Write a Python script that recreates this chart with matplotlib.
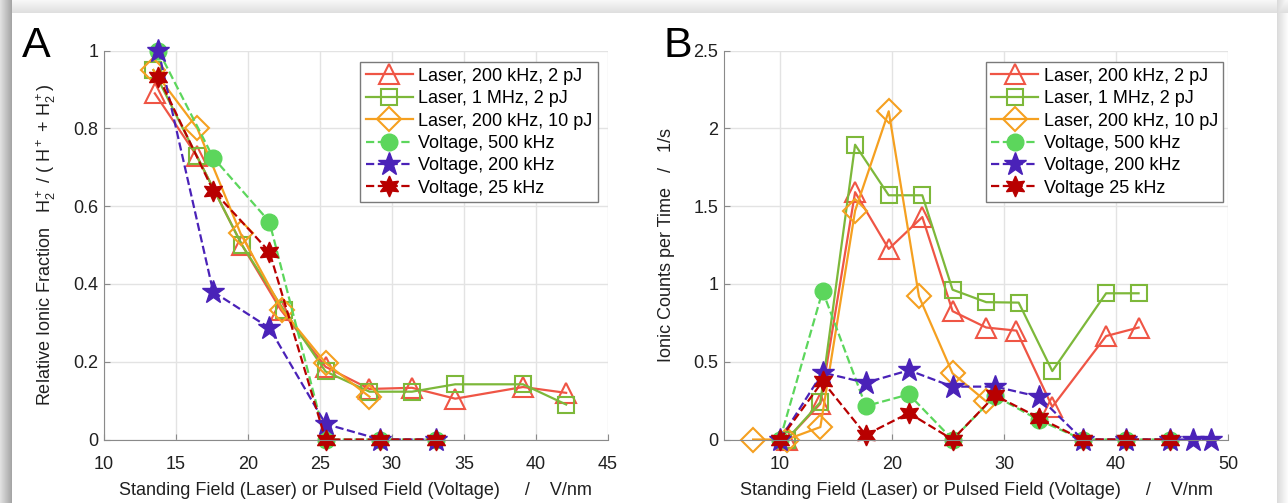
import numpy as np
import matplotlib
matplotlib.use('Agg')
import matplotlib.pyplot as plt
from matplotlib.ticker import FuncFormatter

plt.rcParams['font.family'] = ['Liberation Sans', 'DejaVu Sans']
plt.rcParams['mathtext.fontset'] = 'custom'
plt.rcParams['mathtext.rm'] = 'Liberation Sans'
plt.rcParams['mathtext.it'] = 'Liberation Sans:italic'

# ---- data: panel A (relative ionic fraction) ----
a_laser200_2_x = [13.55, 16.45, 19.6, 22.3, 25.4, 28.45, 31.4, 34.4, 39.1, 42.1]
a_laser200_2_y = [0.89, 0.73, 0.50, 0.333, 0.187, 0.13, 0.133, 0.105, 0.135, 0.12]
a_laser1M_2_x = [13.45, 16.45, 19.6, 22.5, 25.4, 28.45, 31.4, 34.4, 39.1, 42.1]
a_laser1M_2_y = [0.95, 0.73, 0.50, 0.333, 0.175, 0.123, 0.123, 0.142, 0.142, 0.09]
a_laser200_10_x = [13.45, 16.5, 19.5, 22.4, 25.4, 28.45]
a_laser200_10_y = [0.95, 0.80, 0.53, 0.333, 0.197, 0.11]
a_volt500_x = [13.8, 17.6, 21.5, 25.4, 29.2, 33.1]
a_volt500_y = [1.0, 0.725, 0.56, 0.0, 0.0, 0.0]
a_volt200_x = [13.8, 17.6, 21.5, 25.4, 29.2, 33.1]
a_volt200_y = [1.0, 0.38, 0.287, 0.04, 0.0, 0.0]
a_volt25_x = [13.8, 17.6, 21.5, 25.4, 29.2, 33.1]
a_volt25_y = [0.933, 0.64, 0.483, 0.0, 0.0, 0.0]

# ---- data: panel B (ionic counts per time) ----
b_laser200_2_x = [10.6, 13.6, 16.7, 19.7, 22.7, 25.4, 28.4, 31.1, 34.3, 39.1, 42.0]
b_laser200_2_y = [0.0, 0.23, 1.59, 1.225, 1.43, 0.825, 0.72, 0.70, 0.21, 0.665, 0.72]
b_laser1M_2_x = [10.6, 13.6, 16.7, 19.7, 22.7, 25.4, 28.4, 31.3, 34.3, 39.1, 42.0]
b_laser1M_2_y = [0.0, 0.24, 1.895, 1.57, 1.57, 0.963, 0.883, 0.88, 0.44, 0.94, 0.94]
b_laser200_10_x = [7.6, 10.6, 13.6, 16.7, 19.7, 22.4, 25.4, 28.4]
b_laser200_10_y = [0.0, 0.0, 0.08, 1.47, 2.11, 0.92, 0.425, 0.245]
b_volt500_x = [10.0, 13.8, 17.65, 21.5, 25.4, 29.2, 33.1, 37.0, 40.9, 44.8]
b_volt500_y = [0.0, 0.955, 0.215, 0.29, 0.0, 0.28, 0.125, 0.0, 0.0, 0.0]
b_volt200_x = [10.0, 13.8, 17.65, 21.5, 25.4, 29.2, 33.1, 37.0, 40.9, 44.8, 46.9, 48.5]
b_volt200_y = [0.0, 0.43, 0.365, 0.445, 0.34, 0.34, 0.275, 0.0, 0.0, 0.0, 0.0, 0.0]
b_volt25_x = [10.0, 13.8, 17.65, 21.5, 25.4, 29.2, 33.1, 37.0, 40.9, 44.8]
b_volt25_y = [0.0, 0.374, 0.03, 0.17, 0.0, 0.283, 0.14, 0.0, 0.0, 0.0]

labels = ['Laser, 200 kHz, 2 pJ', 'Laser, 1 MHz, 2 pJ', 'Laser, 200 kHz, 10 pJ',
          'Voltage, 500 kHz', 'Voltage, 200 kHz', 'Voltage, 25 kHz']
labels_b = ['Laser, 200 kHz, 2 pJ', 'Laser, 1 MHz, 2 pJ', 'Laser, 200 kHz, 10 pJ',
            'Voltage, 500 kHz', 'Voltage, 200 kHz', 'Voltage 25 kHz']

# style per series
styles = [
    dict(color='#EF5545', marker='^', ls='-', ms=15, mfc='none', mew=1.5, lw=1.6),
    dict(color='#7DB83A', marker='s', ls='-', ms=11, mfc='none', mew=1.5, lw=1.6),
    dict(color='#F5A020', marker='D', ls='-', ms=12, mfc='none', mew=1.5, lw=1.6),
    dict(color='#5CD65C', marker='o', ls='--', ms=12, mfc='#5CD65C', mew=1, lw=1.6),
    dict(color='#4A22B8', marker='*', ls='--', ms=17, mfc='#4A22B8', mew=1, lw=1.6),
    dict(color='#B80000', marker=(6, 1, 0), ls='--', ms=15, mfc='#B80000', mew=1, lw=1.6),
]

FS = 13
xlab = 'Standing Field (Laser) or Pulsed Field (Voltage)     /    V/nm'

fig = plt.figure(figsize=(12.88, 5.03), dpi=100)

# background with drop-shadow frame
H, W = 503, 1288
yy, xx = np.mgrid[0:H, 0:W]
dark = np.zeros((H, W))
dark = np.maximum(dark, np.where(xx < 12, 0.12 + 0.25 * xx / 12, 0))
dark = np.maximum(dark, np.where((yy < 13) & (xx >= 12), 0.03 + 0.1 * yy / 13, 0))
dark = np.maximum(dark, np.where(xx > 1276, 0.15 * (1 - (xx - 1276) / 12), 0))
bg = np.dstack([1 - dark] * 3)
bgax = fig.add_axes([0, 0, 1, 1], zorder=-10)
bgax.imshow(bg, aspect='auto', interpolation='bilinear')
bgax.axis('off')


def setup(ax, xlim, xticks, ylim, yticks):
    ax.set_xlim(xlim)
    ax.set_ylim(ylim)
    ax.set_xticks(xticks)
    ax.set_yticks(yticks)
    ax.yaxis.set_major_formatter(FuncFormatter(lambda v, p: f'{v:g}'))
    ax.grid(True, color='#e3e3e3', lw=1)
    ax.set_axisbelow(True)
    for s in ['top', 'right']:
        ax.spines[s].set_visible(False)
    for s in ['left', 'bottom']:
        ax.spines[s].set_color('#8a8a8a')
    ax.tick_params(direction='in', length=4, color='#8a8a8a', labelsize=FS,
                   labelcolor='#202020')
    ax.tick_params(axis='y', pad=4)
    ax.tick_params(axis='x', pad=12)
    ax.set_facecolor('none')


def add_legend(ax, xa, labs):
    ax.legend(labs, loc='upper right', bbox_to_anchor=(xa, 0.97), fontsize=FS,
              fancybox=False, edgecolor='#7a7a7a', framealpha=1, handlelength=2.6,
              labelspacing=0.3, borderpad=0.3, handletextpad=0.3, borderaxespad=0)


axA = fig.add_axes([0.0805, 0.1262, 0.3915, 0.7732])
seriesA = [(a_laser200_2_x, a_laser200_2_y), (a_laser1M_2_x, a_laser1M_2_y),
           (a_laser200_10_x, a_laser200_10_y), (a_volt500_x, a_volt500_y),
           (a_volt200_x, a_volt200_y), (a_volt25_x, a_volt25_y)]
for (x, y), st in zip(seriesA, styles):
    axA.plot(x, y, clip_on=False, **st)
setup(axA, (10, 45), range(10, 46, 5), (0, 1), np.arange(0, 1.01, 0.2))
axA.set_xlabel(xlab, fontsize=FS, color='#202020', labelpad=6)
axA.set_ylabel(r'Relative Ionic Fraction   $\mathrm{H_2^+}$ / ( $\mathrm{H^+}$ + $\mathrm{H_2^+}$)',
               fontsize=FS, color='#202020', labelpad=11)
add_legend(axA, 0.98, labels)

axB = fig.add_axes([0.5621, 0.1262, 0.3915, 0.7732])
seriesB = [(b_laser200_2_x, b_laser200_2_y), (b_laser1M_2_x, b_laser1M_2_y),
           (b_laser200_10_x, b_laser200_10_y), (b_volt500_x, b_volt500_y),
           (b_volt200_x, b_volt200_y), (b_volt25_x, b_volt25_y)]
for (x, y), st in zip(seriesB, styles):
    axB.plot(x, y, clip_on=False, **st)
setup(axB, (5, 50), range(10, 51, 10), (0, 2.5), np.arange(0, 2.51, 0.5))
axB.set_xlabel(xlab, fontsize=FS, color='#202020', labelpad=6)
axB.set_ylabel('Ionic Counts per Time   /   1/s', fontsize=FS, color='#202020', labelpad=13)
add_legend(axB, 0.99, labels_b)

fig.text(36 / 1288, 1 - 46 / 503, 'A', fontsize=31, ha='center', va='center')
fig.text(678 / 1288, 1 - 46 / 503, 'B', fontsize=31, ha='center', va='center')

fig.savefig('out.png', dpi=100)
